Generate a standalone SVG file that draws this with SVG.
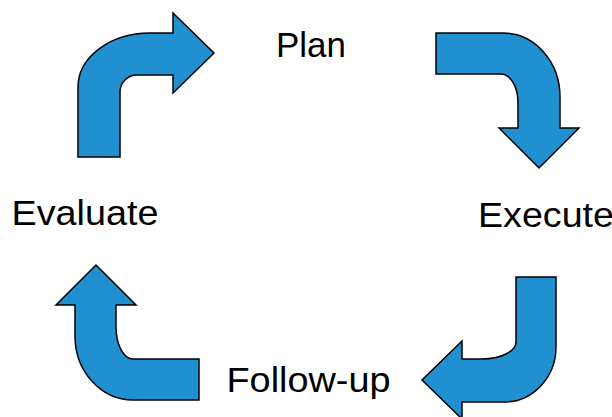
<svg xmlns="http://www.w3.org/2000/svg" width="612" height="417" viewBox="0 0 612 417">
  <style>
    .arrow { fill: #2190d0; stroke: #000; stroke-width: 1.5; stroke-linejoin: miter; }
    .label { font-family: "Liberation Sans", Arial, sans-serif; font-size: 35px; fill: #000; text-anchor: middle; }
  </style>
  <rect width="612" height="417" fill="#fff"/>

  <!-- curved arrows between the stages -->
  <g id="connectors">
    <!-- Evaluate -> Plan -->
    <path class="arrow" d="M78,157 L78,87 A72,54 0 0 1 150,33 L173,33 L173,13 L214,53 L173,93 L173,75 L137,75 A17,17 0 0 0 120,92 L120,157 Z"/>
    <!-- Plan -> Execute -->
    <path class="arrow" d="M436,33 L503,33 A57,64 0 0 1 560,97 L560,128 L579,128 L539,168 L499,128 L518,128 L518,103 A17,29 0 0 0 501,74 L436,74 Z"/>
    <!-- Execute -> Follow-up -->
    <path class="arrow" d="M516,277 L556,277 L556,347 A52,55 0 0 1 504,402 L462,402 L462,419 L422,380 L462,341 L462,359 L482,359 A34,17 0 0 0 516,342 Z"/>
    <!-- Follow-up -> Evaluate -->
    <path class="arrow" d="M96,265 L136,305 L116,305 L116,327 A17,32 0 0 0 133,359 L199,359 L199,400 L133,400 A58,64 0 0 1 75,336 L75,305 L56,305 Z"/>
  </g>

  <g id="plan"><text class="label" x="311" y="57" textLength="70" lengthAdjust="spacingAndGlyphs">Plan</text></g>
  <g id="execute"><text class="label" x="546" y="226.5" textLength="136" lengthAdjust="spacingAndGlyphs">Execute</text></g>
  <g id="follow-up"><text class="label" x="308.5" y="392" textLength="164" lengthAdjust="spacingAndGlyphs">Follow-up</text></g>
  <g id="evaluate"><text class="label" x="85" y="225" textLength="147" lengthAdjust="spacingAndGlyphs">Evaluate</text></g>
</svg>
